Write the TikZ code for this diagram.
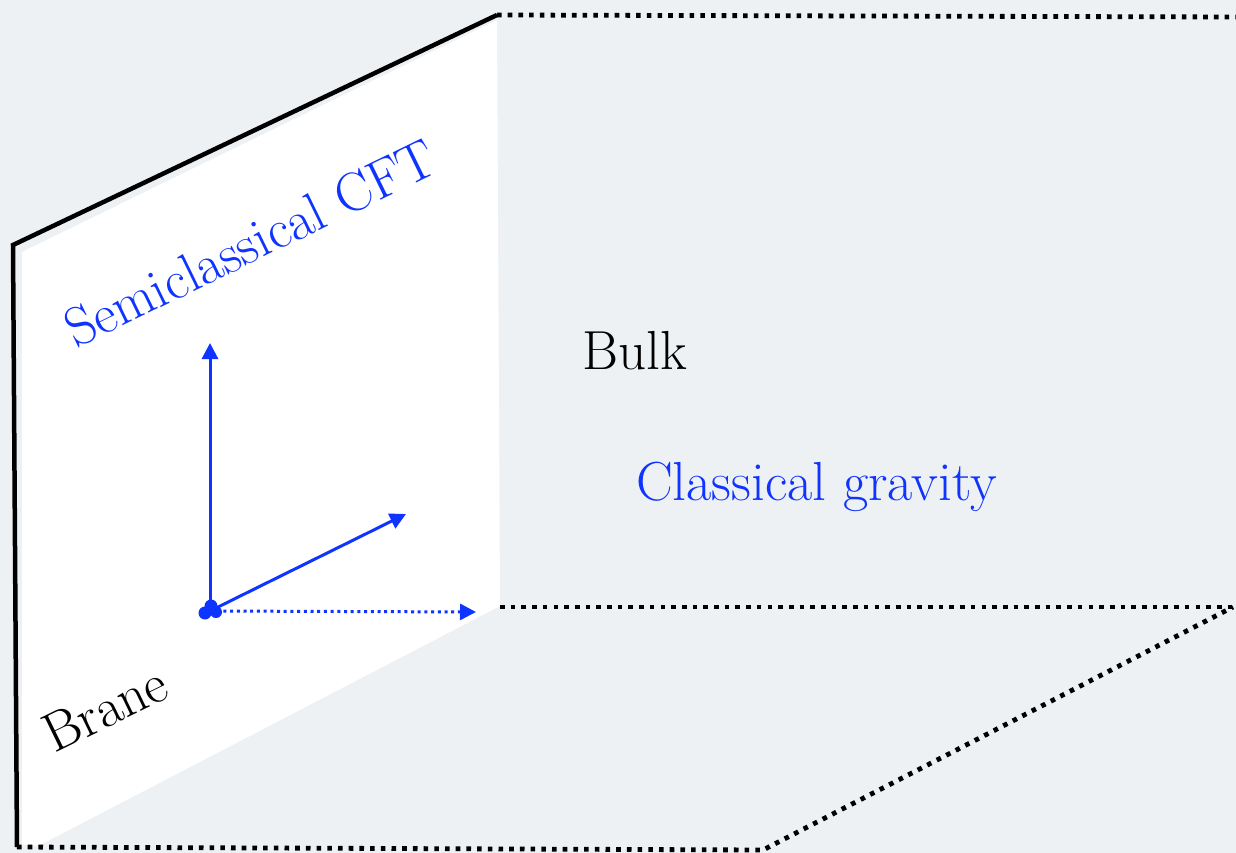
\documentclass[tikz,border=0pt]{standalone}
\usetikzlibrary{arrows.meta}
\definecolor{bg}{RGB}{238,241,244}
\definecolor{myblue}{RGB}{16,52,255}
\tikzset{
  edge/.style={line width=4.5pt, line cap=butt, line join=miter},
  dotline/.style={line width=4.8pt, dash pattern=on 4.6pt off 6.1pt},
  axis/.style={myblue, line width=3pt, -{Triangle[length=16pt,width=16pt]}},
  daxis/.style={myblue, line width=3pt, dash pattern=on 3pt off 3.7pt, -{Triangle[length=16pt,width=16pt]}},
  lbl/.style={inner sep=0pt, font=\fontsize{55}{64}\selectfont},
}
\begin{document}
\begin{tikzpicture}[x=1pt,y=-1pt]
\fill[bg] (0,0) rectangle (1236,853);
\useasboundingbox (0,0) rectangle (1236,853);
% corners
\coordinate (bl) at (17,847);
\coordinate (tl) at (13,245);
\coordinate (tr) at (497,15);
\coordinate (mr) at (500,607);
\coordinate (topend) at (1236,17);
\coordinate (midend) at (1233,607);
\coordinate (botc) at (763,850);
% brane face
\fill[white] (22,252) -- (497,20) -- (500,606) -- (40,845) -- (22,845) -- cycle;
% solid edges
\draw[edge] (bl) -- (tl) -- (tr);
% dotted edges
\draw[dotline] (tr) -- (topend);
\draw[dotline] (mr) -- (midend);
\draw[dotline] (bl) -- (botc) -- (midend);
% axes
\coordinate (o) at (210,611);
\coordinate (up) at (210,343);
\coordinate (dg) at (406,514);
\coordinate (rt) at (476,612);
\draw[axis] (o) -- (up);
\draw[axis] (o) -- (dg);
\draw[daxis] (o) -- (rt);
\fill[myblue] (205,613) circle (6.5) (211,606) circle (6.5) (216,612) circle (6);
% labels
\node[lbl, myblue, rotate=26, anchor=base west] (cft) at (76,349) {Semiclassical CFT};
\node[lbl, anchor=base west] (bulk) at (582,369) {Bulk};
\node[lbl, myblue, anchor=base west] (grav) at (636,500) {Classical gravity};
\node[lbl, rotate=26, anchor=base west] (brane) at (54,754) {Brane};
\end{tikzpicture}
\end{document}
